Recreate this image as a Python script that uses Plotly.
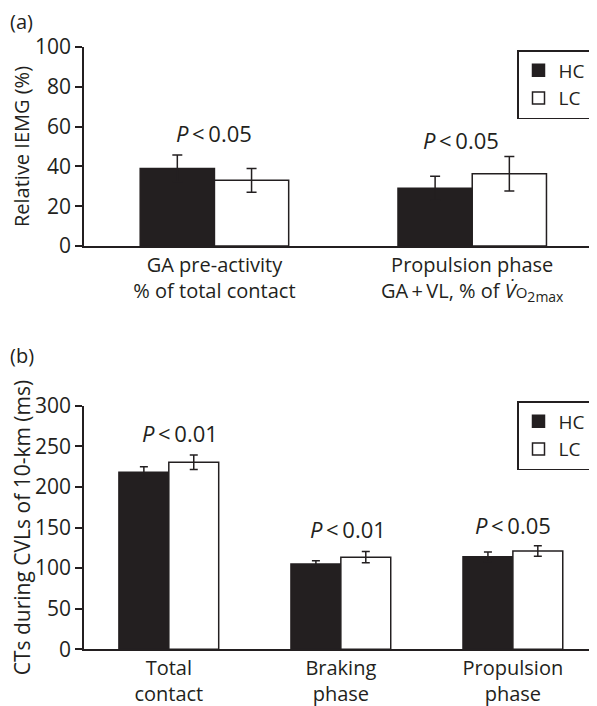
import plotly.graph_objects as go

# ---------------- data ----------------
cats_a = ["GA pre-activity<br>% of total contact",
          "Propulsion phase<br>GA\u2009+\u2009VL, % of <i>V̇</i><span style='font-size:15px'>O</span><sub>2max</sub>"]
hc_a = [39, 29]
hc_a_err = [6.7, 6]
lc_a = [33, 36.3]
lc_a_err = [6, 8.7]
p_a = ["<i>P</i>\u2009&lt;\u20090.05", "<i>P</i>\u2009&lt;\u20090.05"]

cats_b = ["Total<br>contact", "Braking<br>phase", "Propulsion<br>phase"]
hc_b = [218, 105, 114]
hc_b_err = [7, 4, 6]
lc_b = [230.4, 113.5, 121]
lc_b_err = [9, 7, 6.5]
p_b = ["<i>P</i>\u2009&lt;\u20090.01", "<i>P</i>\u2009&lt;\u20090.01", "<i>P</i>\u2009&lt;\u20090.05"]

series_names = ["HC", "LC"]

# ---------------- style / layout ----------------
INK = "#231f20"
FONT = "Open Sans"
FS = 21
WF, HF = 589, 698          # page has an 8 px body margin
L = 76                     # left margin (fig px)
PW = WF - L

fig = go.Figure()

def add_pair(cats, hc, hce, lc, lce, xa, ya, leg, capw, w):
    fig.add_trace(go.Bar(x=cats, y=hc, name=series_names[0], width=w, offset=-w,
                         marker=dict(color=INK, line=dict(color=INK, width=1.5)),
                         error_y=dict(type="data", array=hce, color=INK, thickness=1.5, width=capw),
                         xaxis=xa, yaxis=ya, legend=leg))
    fig.add_trace(go.Bar(x=cats, y=lc, name=series_names[1], width=w, offset=0,
                         marker=dict(color="white", line=dict(color=INK, width=1.5)),
                         error_y=dict(type="data", array=lce, color=INK, thickness=1.5, width=capw),
                         xaxis=xa, yaxis=ya, legend=leg))

add_pair(cats_a, hc_a, hc_a_err, lc_a, lc_a_err, "x", "y", "legend", 5, 0.288)
add_pair(cats_b, hc_b, hc_b_err, lc_b, lc_b_err, "x2", "y2", "legend2", 4, 0.29)

def dom(top_px, bot_px):
    return [1 - bot_px / HF, 1 - top_px / HF]

axis_common = dict(showline=True, linecolor=INK, linewidth=1.5, showgrid=False, zeroline=False,
                   automargin=False)
ytick_font = dict(family=FONT, size=FS, color=INK)
xtick_font = dict(family=FONT, size=20, color=INK)

legend_common = dict(xanchor="left", yanchor="top", bordercolor=INK, borderwidth=1.5,
                     bgcolor="white", font=dict(family=FONT, size=19, color=INK),
                     itemwidth=30, tracegroupgap=0)

fig.update_layout(
    width=WF, height=HF,
    margin=dict(l=L, r=0, t=0, b=0),
    paper_bgcolor="white", plot_bgcolor="white",
    barmode="overlay",
    font=dict(family=FONT, size=FS, color=INK),
    xaxis=dict(**axis_common, tickfont=xtick_font, domain=[0, 1], range=[-0.506, 1.484],
               ticks="", anchor="y"),
    yaxis=dict(**axis_common, tickfont=ytick_font, domain=dom(39, 238), range=[0, 100], dtick=20,
               ticks="outside", ticklen=7, tickwidth=1.5, tickcolor=INK, anchor="x",
               title=dict(text="Relative IEMG (%)", font=dict(family=FONT, size=20, color=INK), standoff=13)),
    xaxis2=dict(**axis_common, tickfont=xtick_font, domain=[0, 1], range=[-0.493, 2.489],
                ticks="", anchor="y2"),
    yaxis2=dict(**axis_common, tickfont=ytick_font, domain=dom(397.8, 641.3), range=[0, 300], dtick=50,
                ticks="outside", ticklen=7, tickwidth=1.5, tickcolor=INK, anchor="x2",
                title=dict(text="CTs during CVLs of 10-km (ms)", font=dict(family=FONT, size=21, color=INK), standoff=13)),
    legend=dict(**legend_common, x=(509 - L) / PW, y=1 - 42 / HF),
    legend2=dict(**legend_common, x=(509 - L) / PW, y=1 - 393 / HF),
)

# P-value annotations
pa_x = [0, 0.958]
pa_y = [56.9, 53.3]
for t, x, y in zip(p_a, pa_x, pa_y):
    fig.add_annotation(text=t, x=x, y=y, xref="x", yref="y", showarrow=False,
                       font=dict(family=FONT, size=22, color=INK))
pb_x = [0.063, 1.04, 2.0]
pb_y = [266, 147.8, 153.1]
for t, x, y in zip(p_b, pb_x, pb_y):
    fig.add_annotation(text=t, x=x, y=y, xref="x2", yref="y2", showarrow=False,
                       font=dict(family=FONT, size=22, color=INK))

# panel labels
for lab, ypx in [("(a)", 14), ("(b)", 347)]:
    fig.add_annotation(text=lab, x=(0 - L) / PW, y=1 - ypx / HF, xref="paper", yref="paper",
                       showarrow=False, xanchor="left", yanchor="middle",
                       font=dict(family=FONT, size=20, color=INK))

fig.write_html("out.html")
